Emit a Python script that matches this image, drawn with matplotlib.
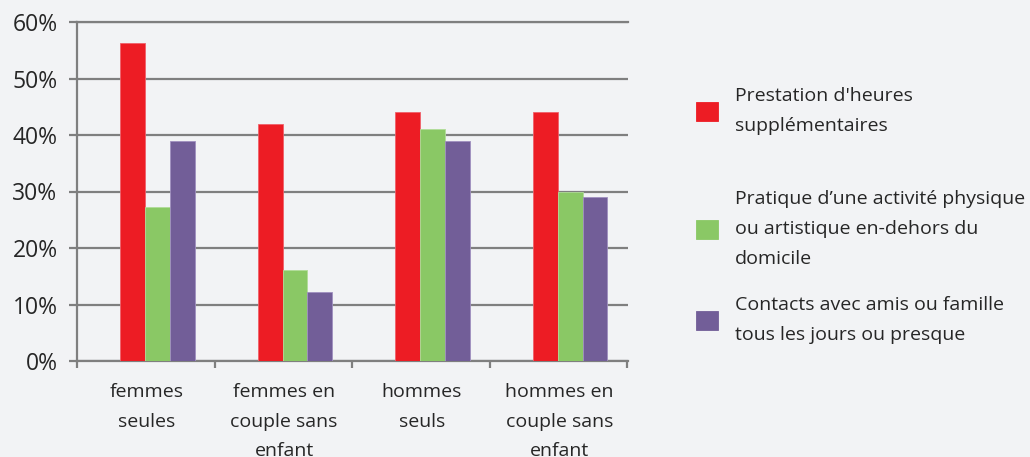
import matplotlib
matplotlib.use("Agg")
import matplotlib.pyplot as plt
import numpy as np
from matplotlib.ticker import FixedLocator

categories = ["femmes\nseules", "femmes en\ncouple sans\nenfant", "hommes\nseuls", "hommes en\ncouple sans\nenfant"]
series_names = ["Prestation d'heures\nsupplémentaires",
                "Pratique d\u2019une activité physique\nou artistique en-dehors du\ndomicile",
                "Contacts avec amis ou famille\ntous les jours ou presque"]
heures_sup = [56.2, 41.9, 44.1, 44.1]
activite = [27.3, 16.1, 41.1, 29.9]
contacts = [39.0, 12.2, 39.0, 29.0]
yticks = [0, 10, 20, 30, 40, 50, 60]

colors = ["#ED1C24", "#8AC865", "#725E98"]
edges = ["#F0606A", "#B0DC98", "#A090C0"]
bg = "#F2F3F5"
grid_c = "#7F7F7F"
text_c = "#262626"

plt.rcParams['font.family'] = ['Open Sans', 'DejaVu Sans']

fig = plt.figure(figsize=(10.30, 4.57), dpi=100, facecolor=bg)
ax = fig.add_axes([77/1030, 1 - 361/457, (628-77)/1030, (361-22)/457], facecolor=bg)

x = np.arange(len(categories))
w = 0.18
data = [heures_sup, activite, contacts]
bars = []
for k, vals in enumerate(data):
    b = ax.bar(x + (k - 1) * w, vals, width=w, color=colors[k], edgecolor=edges[k],
               linewidth=0.6, zorder=3, label=series_names[k])
    bars.append(b)

ax.set_xlim(-0.585, len(categories) - 1 + 0.42)
ax.set_ylim(0, 60)

# grid
ax.yaxis.set_major_locator(FixedLocator(yticks))
ax.set_yticklabels([f"{v}%" for v in yticks])
ax.grid(axis='y', color=grid_c, linewidth=1.6, zorder=0)
ax.set_axisbelow(True)

# x ticks: labels at group centre, marks at boundaries
ax.set_xticks(x - 0.08)
ax.set_xticklabels(categories, linespacing=1.83)
ax.xaxis.set_minor_locator(FixedLocator(list(np.arange(len(categories) + 1) - 0.585)))
ax.tick_params(axis='x', which='major', length=0, pad=16, labelsize=14, colors=text_c)
ax.tick_params(axis='x', which='minor', length=5, width=1.6, color=grid_c, direction='out')
ax.tick_params(axis='y', length=6, width=1.6, color=grid_c, pad=8, labelsize=16.5, labelcolor=text_c)

ax.spines['right'].set_visible(False)
for s in ['top', 'left', 'bottom']:
    ax.spines[s].set_color(grid_c)
    ax.spines[s].set_linewidth(1.6)

# legends, one per series
leg_y = [1 - 111/457, 1 - 229/457, 1 - 320/457]
for k in range(len(series_names)):
    leg = fig.legend(handles=[bars[k]], labels=[series_names[k]], loc='center left',
                     bbox_to_anchor=(696/1030, leg_y[k]), frameon=False, fontsize=14,
                     borderpad=0, borderaxespad=0, handlelength=1.13, handleheight=1.13,
                     handletextpad=0.88, labelcolor=text_c)
    for t in leg.get_texts():
        t.set_linespacing(1.83)
    for h in leg.legend_handles:
        h.set_edgecolor(colors[k])

fig.savefig("out.png", dpi=100, facecolor=bg)
